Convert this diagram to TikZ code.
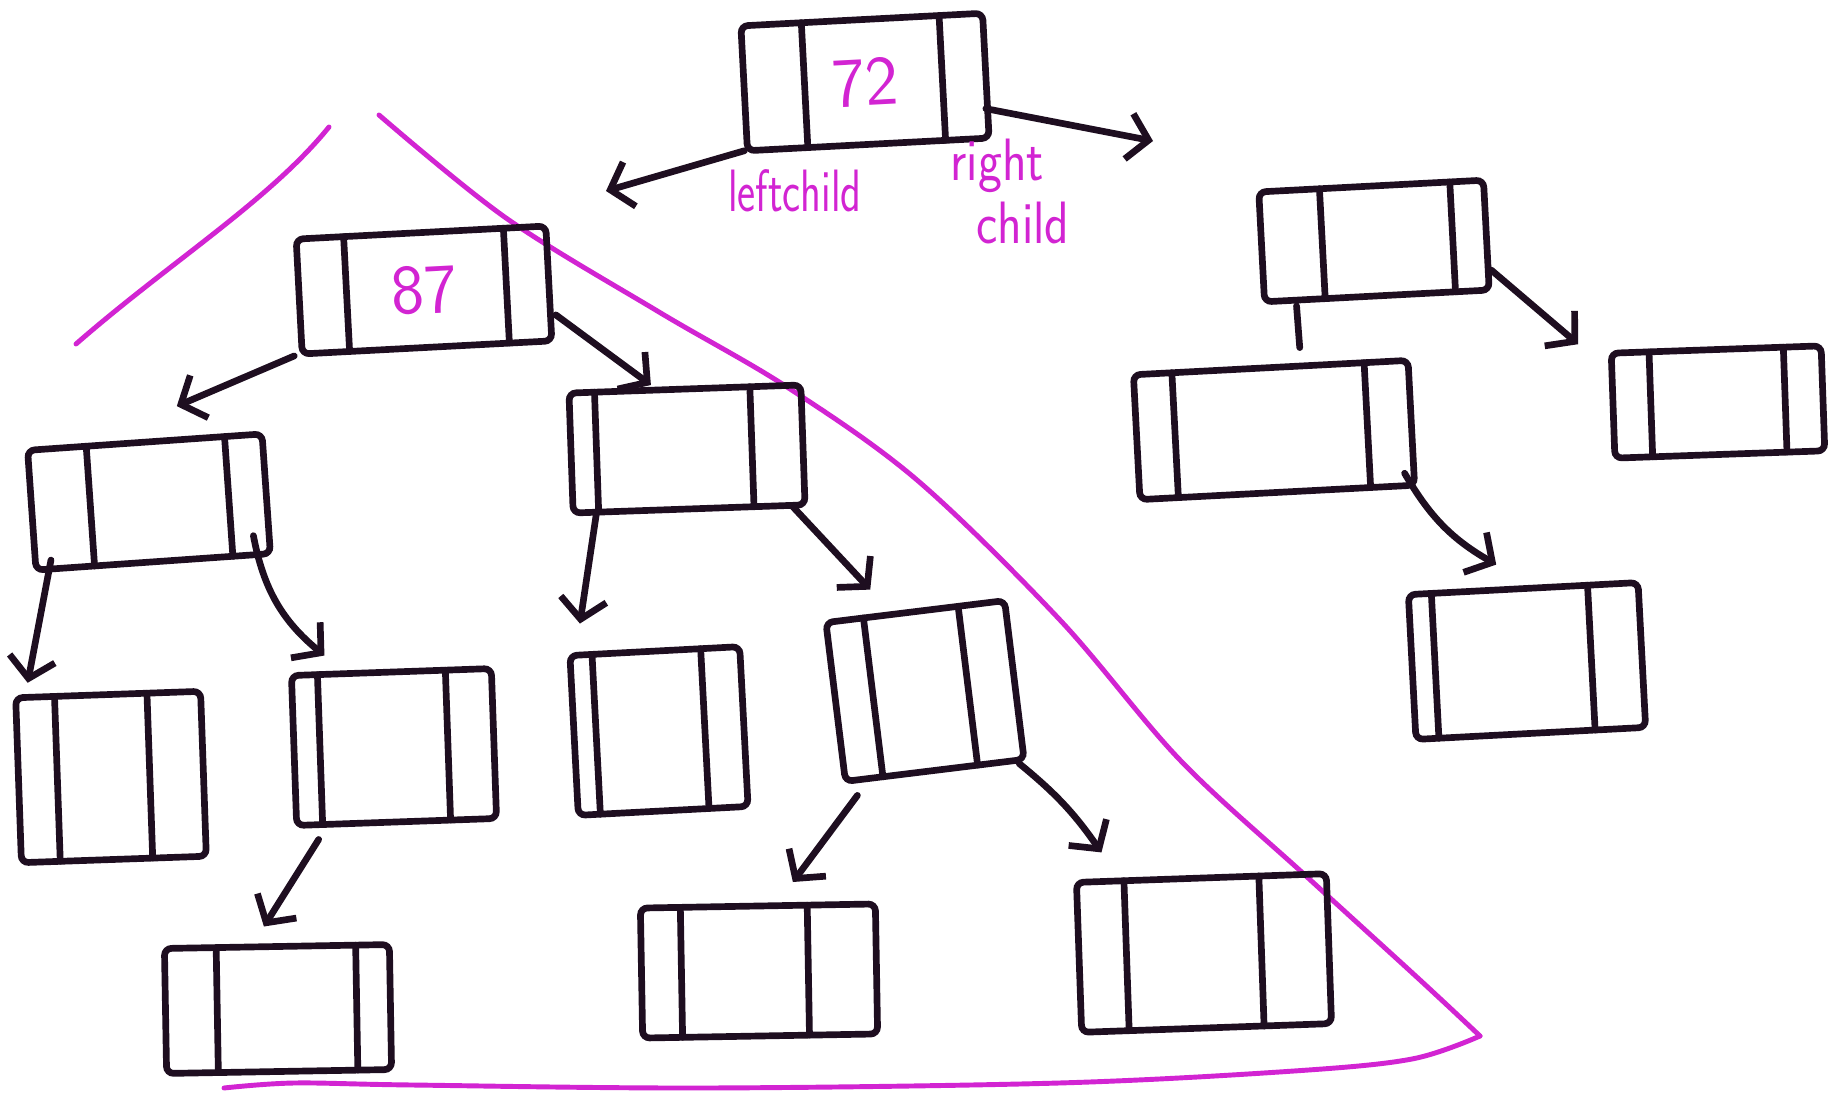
\documentclass[tikz,border=0pt]{standalone}
\usetikzlibrary{arrows.meta,calc}
\definecolor{ink}{RGB}{30,14,32}
\definecolor{mag}{RGB}{210,36,210}
\tikzset{
  lbox/.style n args={3}{draw=ink, line width=1.9pt, rounded corners=2pt,
    minimum width=#1*0.01cm, minimum height=#2*0.01cm, rotate=#3,
    inner sep=0pt, outer sep=0pt, text=mag, font=\sffamily\fontsize{20}{22}\selectfont},
  childarrow/.style={draw=ink, line width=1.9pt, line cap=round, line join=round,
    -{Straight Barb[length=0.2cm,width=0.46cm]}},
  stroke/.style={draw=ink, line width=1.9pt, line cap=round},
  tri/.style={draw=mag, line width=1.4pt, line cap=round, line join=round},
  note/.style={text=mag, font=\sffamily\fontsize{17}{17}\selectfont, inner sep=0pt},
}
\newcommand\nodedivs[3]{%
  \draw[stroke] ($(#1.north west)!#2!(#1.north east)$) -- ($(#1.south west)!#2!(#1.south east)$);
  \draw[stroke] ($(#1.north west)!#3!(#1.north east)$) -- ($(#1.south west)!#3!(#1.south east)$);}
\begin{document}
\begin{tikzpicture}[x=0.01cm, y=-0.01cm]
\useasboundingbox (0,0) rectangle (1845,1097);
\fill[white] (0,0) rectangle (1845,1097);

% magenta outline
\draw[tri] (76,344) .. controls (170,262) and (270,200) .. (329,127);
\draw[tri] plot[smooth, tension=0.55] coordinates {(379,115) (506,218) (659,312) (787,387) (917,480) (1060,620) (1180,760) (1306,876) (1420,980) (1480,1036)};
\draw[tri] plot[smooth, tension=0.55] coordinates {(1480,1036) (1412,1059) (1294,1071) (1059,1083) (706,1088) (412,1085) (294,1083) (224,1088)};

% boxes
\node[lbox={242}{125}{3}] (root) at (865,82) {72};
\node[lbox={250}{115}{3}] (n87) at (424,290) {87};
\node[lbox={235}{120}{4}] (A) at (149,502) {};
\node[lbox={232}{120}{2}] (B) at (687,449) {};
\node[lbox={185}{165}{2}] (C) at (111,777) {};
\node[lbox={200}{150}{2}] (D) at (394,747) {};
\node[lbox={225}{125}{1}] (E) at (278,1009) {};
\node[lbox={170}{160}{3}] (F) at (659,731) {};
\node[lbox={180}{160}{7}] (G) at (925,691) {};
\node[lbox={235}{130}{1}] (H) at (759,971) {};
\node[lbox={250}{150}{2}] (I) at (1204,953) {};
\node[lbox={225}{110}{3}] (J) at (1374,241) {};
\node[lbox={275}{125}{3}] (K) at (1274,430) {};
\node[lbox={210}{105}{2}] (L) at (1718,402) {};
\node[lbox={230}{145}{3}] (M) at (1527,661) {};

\nodedivs{root}{0.25}{0.82}
\nodedivs{n87}{0.19}{0.83}
\nodedivs{A}{0.25}{0.84}
\nodedivs{B}{0.11}{0.78}
\nodedivs{C}{0.21}{0.71}
\nodedivs{D}{0.13}{0.77}
\nodedivs{E}{0.23}{0.85}
\nodedivs{F}{0.13}{0.77}
\nodedivs{G}{0.21}{0.74}
\nodedivs{H}{0.17}{0.71}
\nodedivs{I}{0.19}{0.73}
\nodedivs{J}{0.27}{0.85}
\nodedivs{K}{0.14}{0.84}
\nodedivs{L}{0.18}{0.82}
\nodedivs{M}{0.10}{0.78}

% root pointers
\coordinate (rootL) at (606,191);
\coordinate (rootR) at (1153,141);
\draw[childarrow] ($(root.south west)+(-3,0)$) -- (rootL);
\draw[childarrow] ($(root.east)+(0,33)$) -- (rootR);
\node[note] (lc) at (795,191) {\scalebox{0.72}[1]{leftchild}};
\node[note, anchor=north west] (rc) at (950,138) {\scalebox{0.85}[1]{\begin{tabular}{@{}l@{}}right\\[1pt]\hspace{0.3cm}child\end{tabular}}};

% child links
\draw[childarrow] ($(n87.south west)+(-8,2)$) -- ($(A.north)+(32,-36)$);
\draw[childarrow] ($(n87.south east)+(4,-26)$) -- ($(B.north)+(-34,-4)$);
\draw[childarrow] ($(A.south west)+(15,-10)$) -- ($(C.north west)+(12,-15)$);
\draw[childarrow] ($(A.south east)+(-17,-18)$) to[bend right=20] ($(D.north west)+(33,-20)$);
\draw[childarrow] ($(B.south west)+(23,2)$) -- ($(F.north west)+(10,-32)$);
\draw[childarrow] ($(B.south east)+(-12,2)$) -- ($(G.north)+(-45,-22)$);
\draw[childarrow] ($(D.south west)+(22,14)$) -- ($(E.north)+(-13,-20)$);
\draw[childarrow] ($(G.south west)+(12,14)$) -- ($(H.north)+(35,-24)$);
\draw[childarrow] ($(G.south east)+(-5,4)$) to[bend left=8] ($(I.north west)+(25,-30)$);
\draw[stroke] ($(J.south west)+(32,4)$) -- ($(K.north)+(29,-20)$);
\draw[childarrow] ($(J.south east)+(2,-20)$) -- ($(L.north west)+(-33,-9)$);
\draw[childarrow] ($(K.south east)+(-10,-12)$) to[bend right=15] ($(M.north)+(-27,-24)$);
\end{tikzpicture}
\end{document}
